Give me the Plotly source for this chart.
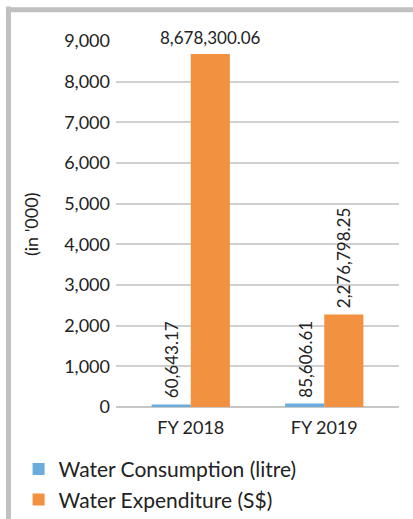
import plotly.graph_objects as go

categories = ["FY 2018", "FY 2019"]
consumption = [60643.17, 85606.61]
expenditure = [8678300.06, 2276798.25]
y_ticks = [0, 1000, 2000, 3000, 4000, 5000, 6000, 7000, 8000, 9000]

BLUE = "#6aaddd"
ORANGE = "#f2913f"
FONT = "Lato"
TEXT = "#222222"
BARGAP = 0.414

fig = go.Figure()

# plotted in thousands, labels keep the raw figures
fig.add_trace(
    go.Bar(
        x=categories,
        y=[v / 1000 for v in consumption],
        marker=dict(color=BLUE, line=dict(width=0)),
        name="Water Consumption (litre)",
    )
)
fig.add_trace(
    go.Bar(
        x=categories,
        y=[v / 1000 for v in expenditure],
        marker=dict(color=ORANGE, line=dict(width=0)),
        name="Water Expenditure (S$)",
    )
)

# data labels
offset = (1 - BARGAP) / 4
for i, v in enumerate(consumption):
    fig.add_annotation(
        x=i - offset, y=v / 1000, text=f"{v:,.2f}", textangle=-90,
        showarrow=False, xanchor="center", yanchor="bottom", yshift=4,
        font=dict(family=FONT, size=17, color=TEXT),
    )
for i, v in enumerate(expenditure):
    fig.add_annotation(
        x=i + offset, y=v / 1000, text=f"{v:,.2f}", textangle=0 if i == 0 else -90,
        showarrow=False, xanchor="center", yanchor="bottom", yshift=4,
        font=dict(family=FONT, size=17, color=TEXT),
    )

# y axis title as an annotation
fig.add_annotation(
    xref="paper", yref="paper", x=-0.30, y=0.5, text="(in '000)", textangle=-90,
    showarrow=False, xanchor="center", yanchor="middle",
    font=dict(family=FONT, size=18, color=TEXT),
)

# grey frame on the left and top
fig.add_shape(type="line", xref="paper", yref="paper", x0=-0.380, x1=-0.380, y0=1.094, y1=-0.4,
              line=dict(color="#c0c0c0", width=5))
fig.add_shape(type="line", xref="paper", yref="paper", x0=-0.389, x1=1.2, y0=1.0854, y1=1.0854,
              line=dict(color="#c0c0c0", width=5))

fig.update_layout(
    width=413,
    height=519,
    margin=dict(l=116, r=14, t=41, b=112, autoexpand=False),
    paper_bgcolor="white",
    plot_bgcolor="white",
    barmode="group",
    bargap=BARGAP,
    bargroupgap=0,
    font=dict(family=FONT, color=TEXT),
    showlegend=True,
    legend=dict(
        xref="container", yref="container", x=0.045, y=0.135, xanchor="left", yanchor="top",
        font=dict(family=FONT, size=21, color=TEXT),
        bgcolor="rgba(0,0,0,0)", traceorder="normal",
    ),
    xaxis=dict(
        type="category",
        range=[-0.56, 1.56],
        showgrid=False,
        showline=False,
        ticks="",
        ticklabelstandoff=8,
        tickfont=dict(family=FONT, size=18, color=TEXT),
    ),
    yaxis=dict(
        range=[0, 9000],
        tickvals=y_ticks,
        ticktext=[f"{t:,}" for t in y_ticks],
        showgrid=True,
        gridcolor="#d0d0d0",
        gridwidth=1.5,
        zeroline=True,
        zerolinecolor="#c8c8c8",
        zerolinewidth=1.5,
        ticks="",
        ticklabelstandoff=5,
        tickfont=dict(family=FONT, size=18, color=TEXT),
    ),
)

# drop the default page margin so the figure sits at the window's corner
fig.write_html(
    "out.html",
    config={"displayModeBar": False},
    post_script="document.body.style.margin='0';",
)
